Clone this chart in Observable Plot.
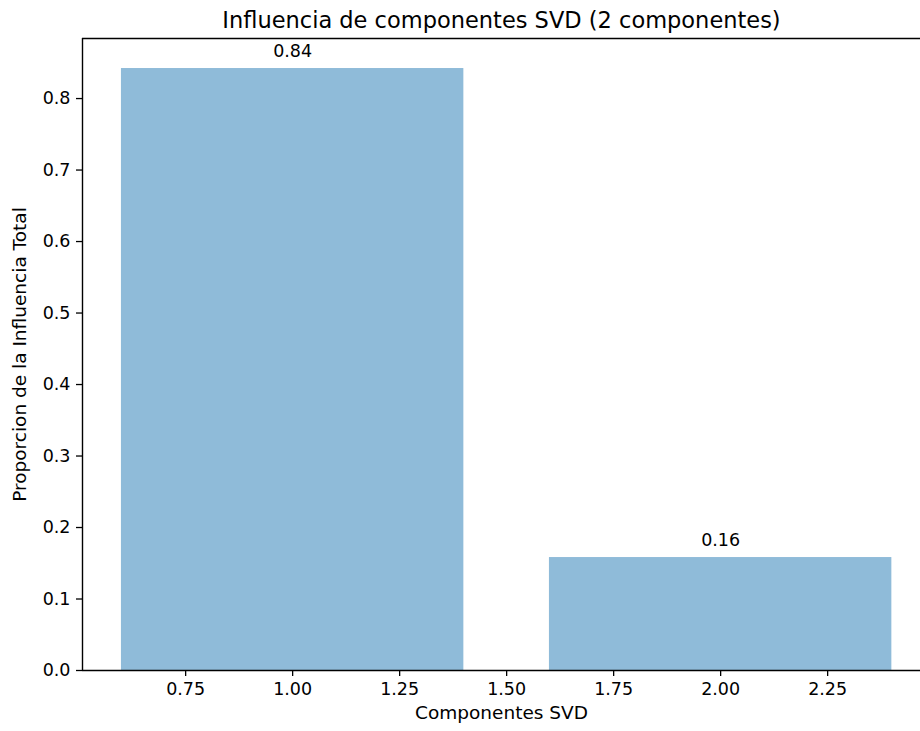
<!DOCTYPE html>
<html>
<head>
<meta charset="utf-8">
<script src="https://cdn.jsdelivr.net/npm/d3@7"></script>
<script src="https://cdn.jsdelivr.net/npm/@observablehq/plot@0.6"></script>
<style>
  html, body { margin: 0; padding: 0; background: #fff; }
  #chart svg { display: block; font-family: "DejaVu Sans", sans-serif; }
</style>
</head>
<body>
<div id="chart"></div>
<script>
const components = [1, 2];
const proportions = [0.842, 0.158];
const barLabels = ["0.84", "0.16"];
const xTicks = [0.75, 1.00, 1.25, 1.50, 1.75, 2.00, 2.25];
const yTicks = [0.0, 0.1, 0.2, 0.3, 0.4, 0.5, 0.6, 0.7, 0.8];
const title = "Influencia de componentes SVD (2 componentes)";
const xLabel = "Componentes SVD";
const yLabel = "Proporcion de la Influencia Total";

const barWidth = 0.8;
const data = components.map((c, i) => ({c, v: proportions[i], label: barLabels[i]}));

const W = 920, H = 731;
const mL = 82, mR = 0, mT = 38, mB = 61;
const x0 = 0.509, pxPerUnit = 428;
const x1 = x0 + (W - mL - mR) / pxPerUnit;
const yMax = 0.884;

const chart = Plot.plot({
  width: W,
  height: H,
  marginLeft: mL,
  marginRight: mR,
  marginTop: mT,
  marginBottom: mB,
  style: {fontFamily: "DejaVu Sans, sans-serif", fontSize: "17.5px", color: "#000", background: "#fff"},
  x: {type: "linear", domain: [x0, x1]},
  y: {type: "linear", domain: [0, yMax]},
  marks: [
    Plot.rectY(data, {
      x1: d => d.c - barWidth / 2,
      x2: d => d.c + barWidth / 2,
      y1: 0,
      y2: "v",
      fill: "#1f77b4",
      fillOpacity: 0.5,
      inset: 0
    }),
    Plot.text(data, {
      x: "c", y: "v", text: "label",
      dy: -17, fontSize: 17.5, fill: "#000", textAnchor: "middle"
    }),
    Plot.axisX(xTicks, {
      tickFormat: d3.format(".2f"), tickSize: 6, tickPadding: 6,
      fontSize: 17.5, stroke: "#000", strokeWidth: 1.3, label: null
    }),
    Plot.axisY(yTicks, {
      tickFormat: d3.format(".1f"), tickSize: 6, tickPadding: 6,
      fontSize: 17.5, stroke: "#000", strokeWidth: 1.3, label: null
    }),
    Plot.ruleY([0], {stroke: "#000", strokeWidth: 1.4}),
    Plot.ruleY([yMax], {stroke: "#000", strokeWidth: 1.4}),
    Plot.ruleX([x0], {stroke: "#000", strokeWidth: 1.4}),
    Plot.text([title], {
      frameAnchor: "top", dy: -26, text: d => d, fontSize: 22.5, fill: "#000"
    }),
    Plot.text([xLabel], {
      frameAnchor: "bottom", dy: 48, text: d => d, fontSize: 18.5, fill: "#000"
    }),
    Plot.text([yLabel], {
      frameAnchor: "left", dx: -62, rotate: -90, textAnchor: "middle",
      text: d => d, fontSize: 18.5, fill: "#000"
    })
  ]
});
document.getElementById("chart").appendChild(chart);
</script>
</body>
</html>
